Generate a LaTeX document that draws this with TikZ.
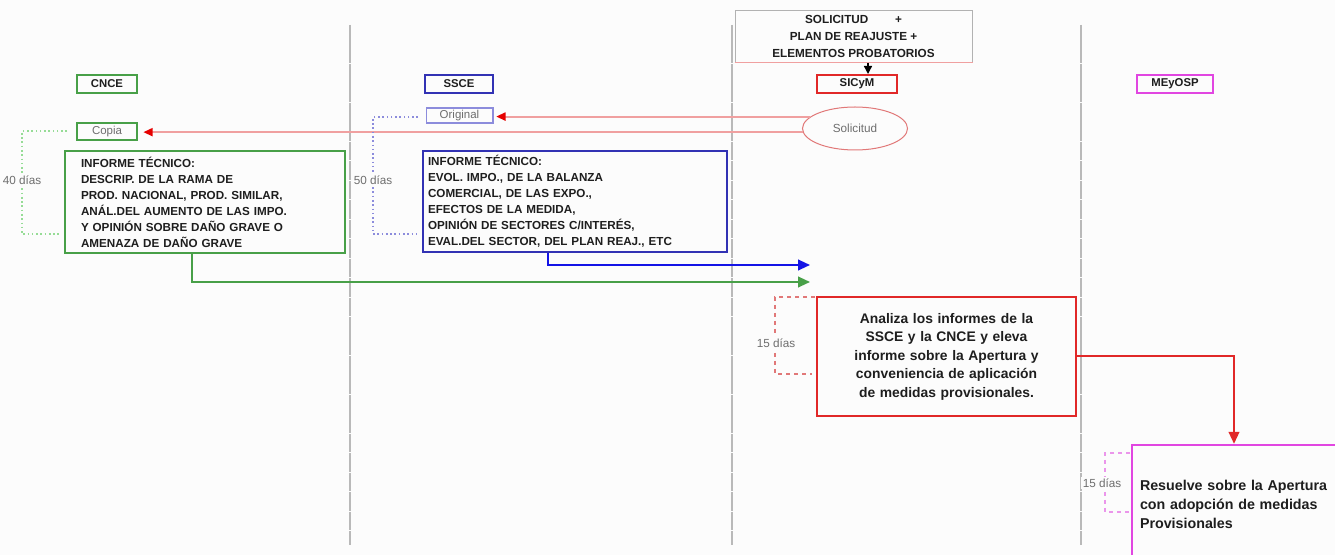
\documentclass[tikz,border=0pt]{standalone}
\usepackage{fontspec}
\setmainfont{Liberation Sans}
\usetikzlibrary{arrows.meta,shapes.geometric}

\definecolor{bgwhite}{RGB}{252,252,252}
\definecolor{inktext}{RGB}{30,30,30}
\definecolor{textgrey}{RGB}{110,110,110}
\definecolor{divgrey}{RGB}{185,185,185}
\definecolor{cncegreen}{RGB}{72,160,72}
\definecolor{ssceblue}{RGB}{50,50,180}
\definecolor{sicymred}{RGB}{225,40,40}
\definecolor{meyospmag}{RGB}{225,70,225}
\definecolor{arrowblue}{RGB}{20,20,230}
\definecolor{pinkline}{RGB}{240,160,160}
\definecolor{tipred}{RGB}{230,0,0}
\definecolor{dotgreen}{RGB}{150,220,150}
\definecolor{dotblue}{RGB}{140,140,220}
\definecolor{dashred}{RGB}{225,120,120}
\definecolor{dashmag}{RGB}{235,150,235}

\tikzset{every picture/.style={line width=0.75pt}}
\tikzset{
  hdrbox/.style={draw, line width=1.5pt, inner sep=0pt, minimum height=13.5pt, text=inktext, font=\fontsize{8.5}{9}\selectfont\bfseries},
  tagbox/.style={draw, line width=1pt, inner sep=0pt, text=textgrey, font=\fontsize{8.6}{9}\selectfont},
  infobox/.style={draw, line width=1.5pt, text=inktext, align=left, font=\fontsize{8.75}{12}\selectfont\bfseries},
  daylabel/.style={fill=bgwhite, inner sep=1pt, text=textgrey, font=\fontsize{8.8}{9}\selectfont},
  divider/.style={divgrey, line width=1.2pt, dash pattern=on 14pt off 0.6pt},
  flowarrow/.style={line width=1.5pt, -{Triangle[length=9pt,width=8pt]}},
  reqarrow/.style={pinkline, line width=1.5pt, -{Triangle[length=7pt,width=6pt,color=tipred]}},
}

\begin{document}
\begin{tikzpicture}[x=0.75pt,y=0.75pt,yscale=-1,xscale=1]

\fill [bgwhite] (0,0) rectangle (1335,555);
\useasboundingbox (0,0) rectangle (1335,555);

\draw [divider] (350,25) -- (350,545);
\draw [divider] (732,25) -- (732,545);
\draw [divider] (1081,25) -- (1081,545);

\node (req) [draw=gray!60, minimum width=177.75pt, minimum height=39pt, inner sep=0pt, align=center, text=inktext, font=\fontsize{8.8}{13}\selectfont\bfseries] at (853.5,36.5) {SOLICITUD\hspace{20pt}+\\PLAN DE REAJUSTE +\\ELEMENTOS PROBATORIOS};
\draw [pinkline] (req.south west) -- (req.south east);

\node (cnce) [hdrbox, draw=cncegreen, minimum width=45pt] at (107,84) {CNCE};
\node (ssce) [hdrbox, draw=ssceblue, minimum width=51pt] at (459,84) {SSCE};
\node (sicym) [hdrbox, draw=sicymred, minimum width=60pt] at (857,84) {SICyM};
\node (meyosp) [hdrbox, draw=meyospmag, minimum width=57pt] at (1175,84) {MEyOSP};

\node (copia) [tagbox, draw=cncegreen, line width=1.5pt, minimum width=45pt, minimum height=12.75pt] at (107,131.5) {Copia};
\node (orig) [tagbox, draw=dotblue, minimum width=50pt, minimum height=11.25pt] at (459.5,115.5) {Original};
\node (sol) [ellipse, draw=dashred, minimum width=78.75pt, minimum height=32.25pt, inner sep=0pt, text=textgrey, font=\fontsize{8.8}{9}\selectfont] at (855,128.5) {Solicitud};

\node (cinf) [infobox, draw=cncegreen, minimum width=210pt, minimum height=76.5pt, inner xsep=12pt, text width=186pt] at (205,202) {INFORME TÉCNICO:\\DESCRIP. DE LA RAMA DE\\PROD. NACIONAL, PROD. SIMILAR,\\ANÁL.DEL AUMENTO DE LAS IMPO.\\Y OPINIÓN SOBRE DAÑO GRAVE O\\AMENAZA DE DAÑO GRAVE};
\node (sinf) [infobox, draw=ssceblue, minimum width=228pt, minimum height=75.75pt, inner xsep=3.75pt, text width=220.5pt] at (575,201.5) {INFORME TÉCNICO:\\EVOL. IMPO., DE LA BALANZA\\COMERCIAL, DE LAS EXPO.,\\EFECTOS DE LA MEDIDA,\\OPINIÓN DE SECTORES C/INTERÉS,\\EVAL.DEL SECTOR, DEL PLAN REAJ., ETC};

\node (analiza) [draw=sicymred, line width=1.8pt, minimum width=194.25pt, minimum height=89.25pt, inner xsep=4pt, text width=186pt, align=center, text=inktext, font=\fontsize{10.4}{13.9}\selectfont\bfseries] at (946.5,356.5) {Analiza los informes de la\\SSCE y la CNCE y eleva\\informe sobre la Apertura y\\conveniencia de aplicación\\de medidas provisionales.};
\node (resuelve) [draw=meyospmag, line width=1.8pt, minimum width=153pt, minimum height=88.5pt, inner xsep=6pt, text width=141pt, align=left, text=inktext, font=\fontsize{10.7}{14.2}\selectfont\bfseries] at (1234,504) {Resuelve sobre la Apertura\\con adopción de medidas\\Provisionales};

\coordinate (bluetip) at (810,265);
\coordinate (greentip) at (810,282);

\draw [-{Triangle[length=6pt,width=6pt]}, line width=1pt] ([xshift=8.25pt]sicym.north |- req.south) -- ([xshift=8.25pt]sicym.north);
\draw [reqarrow, shorten >=2pt] (sol.165) -- (sol.165 -| orig.east);
\draw [reqarrow, shorten >=4pt] (sol.184) -- (sol.184 -| copia.east);
\draw [flowarrow, arrowblue] ([xshift=-20.25pt]sinf.south) |- (bluetip);
\draw [flowarrow, cncegreen] ([xshift=-9.75pt]cinf.south) |- (greentip);
\draw [flowarrow, sicymred] (analiza.east) -| (resuelve.north);

\draw [dotgreen, dotted, line width=1.2pt] (67,131) -- (22,131) -- (22,234) -- (60,234);
\draw [dotblue, dotted, line width=1.2pt] (418,117) -- (373,117) -- (373,234) -- (416,234);
\draw [dashred, dashed, line width=0.9pt] (815,297) -- (775,297) -- (775,374) -- (812,374);
\draw [dashmag, dashed, line width=1.2pt] (1130,453) -- (1105,453) -- (1105,512) -- (1130,512);

\node (d40) [daylabel] at (22,180) {40 días};
\node (d50) [daylabel] at (373,180) {50 días};
\node (d15a) [daylabel] at (776,343) {15 días};
\node (d15b) [daylabel] at (1102,483) {15 días};

\end{tikzpicture}
\end{document}
